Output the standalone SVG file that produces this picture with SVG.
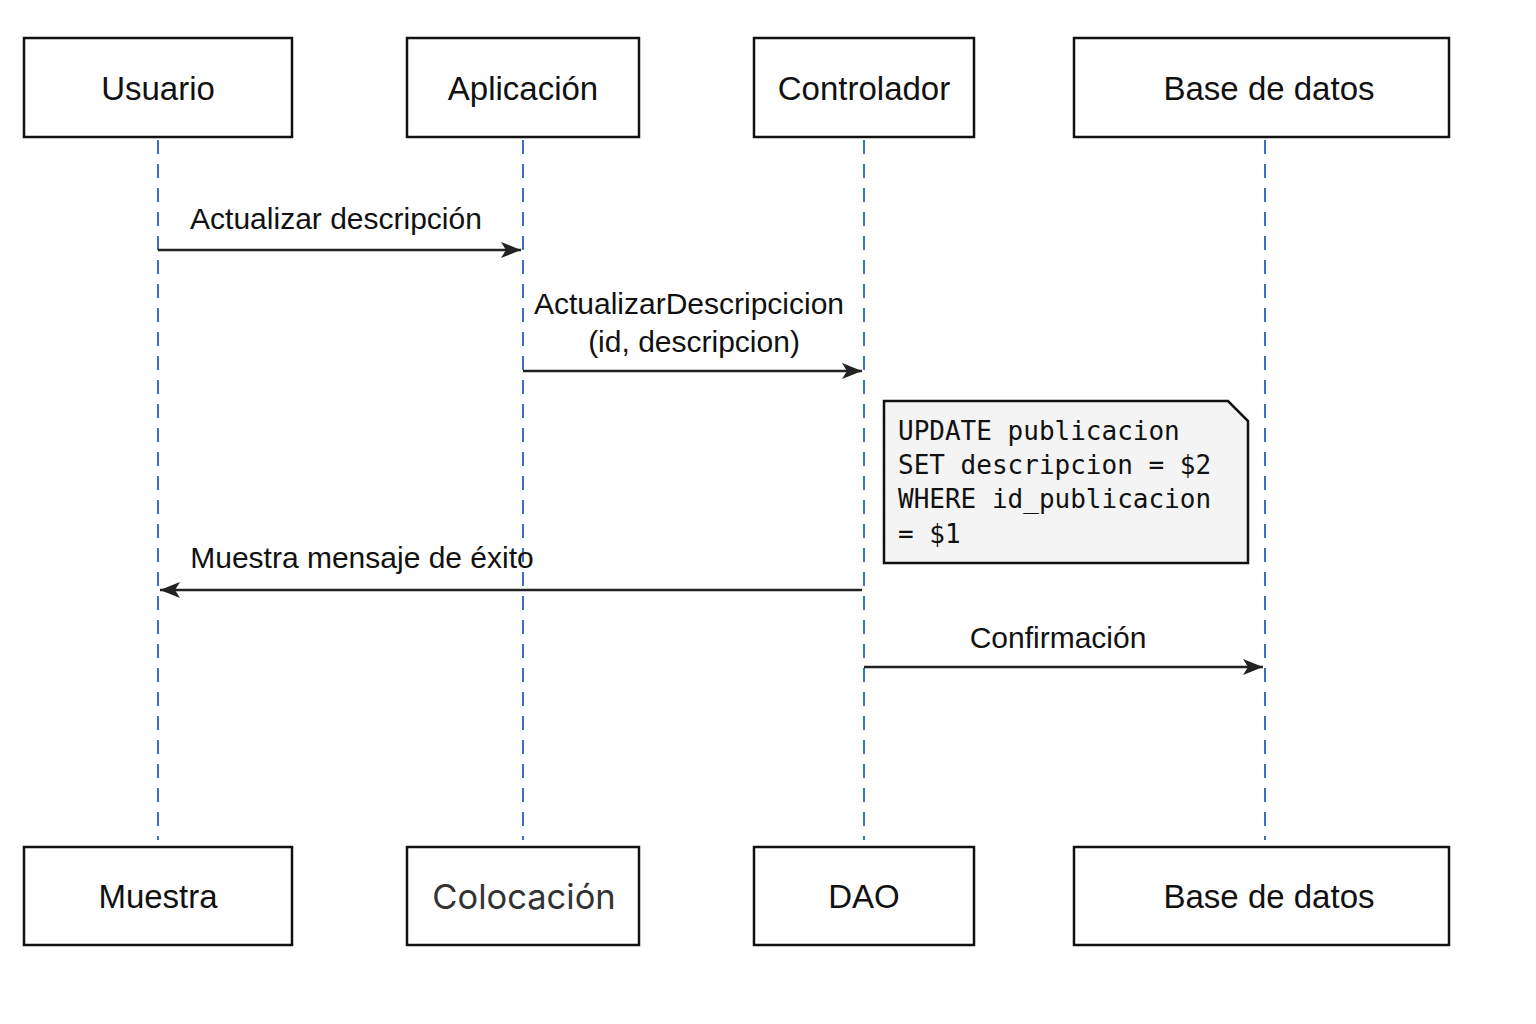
<svg xmlns="http://www.w3.org/2000/svg" width="1536" height="1024" viewBox="0 0 1536 1024">
<defs>
<style>
.box{fill:#fff;stroke:#111;stroke-width:2.5}
.lbl{font-family:"Liberation Sans",Arial,sans-serif;font-size:33px;fill:#111;text-anchor:middle;dominant-baseline:central}
.life{stroke:#3a6fc4;stroke-width:2;stroke-dasharray:14 10;fill:none}
.msg{stroke:#222;stroke-width:2.5;fill:none}
.mt{font-family:"Liberation Sans",Arial,sans-serif;font-size:30px;fill:#111;text-anchor:middle}
.code{font-family:"DejaVu Sans Mono",monospace;font-size:26px;fill:#111}
</style>
<marker id="ah" viewBox="0 0 20 16" refX="20" refY="8" markerWidth="20" markerHeight="16" markerUnits="userSpaceOnUse" orient="auto-start-reverse">
<path d="M0,0 L20,8 L0,16 L5,8 Z" fill="#222"/>
</marker>
</defs>
<rect width="1536" height="1024" fill="#fff"/>
<g id="lifelines">
<line class="life" x1="158" y1="140" x2="158" y2="840"/>
<line class="life" x1="523" y1="140" x2="523" y2="840"/>
<line class="life" x1="864" y1="140" x2="864" y2="840"/>
<line class="life" x1="1265" y1="140" x2="1265" y2="840"/>
</g>
<g id="usuario"><rect class="box" x="24" y="38" width="268" height="99"/><text class="lbl" x="158" y="88">Usuario</text></g>
<g id="aplicacion"><rect class="box" x="407" y="38" width="232" height="99"/><text class="lbl" x="523" y="88">Aplicación</text></g>
<g id="controlador"><rect class="box" x="754" y="38" width="220" height="99"/><text class="lbl" x="864" y="88">Controlador</text></g>
<g id="basedatos"><rect class="box" x="1074" y="38" width="375" height="99"/><text class="lbl" x="1269" y="88">Base de datos</text></g>
<g id="muestra"><rect class="box" x="24" y="847" width="268" height="98"/><text class="lbl" x="158" y="896">Muestra</text></g>
<g id="colocacion"><rect class="box" x="407" y="847" width="232" height="98"/><text class="lbl" x="524" y="896" style="font-family:Inter,'Liberation Sans',sans-serif;fill:#333;font-size:34.5px">Colocación</text></g>
<g id="dao"><rect class="box" x="754" y="847" width="220" height="98"/><text class="lbl" x="864" y="896">DAO</text></g>
<g id="basedatos2"><rect class="box" x="1074" y="847" width="375" height="98"/><text class="lbl" x="1269" y="896">Base de datos</text></g>
<g id="note">
<path d="M884,401 H1228 L1248,421 V563 H884 Z" fill="#f4f4f4" stroke="#111" stroke-width="2.5"/>
<text class="code" x="898" y="440">UPDATE publicacion</text>
<text class="code" x="898" y="474">SET descripcion = $2</text>
<text class="code" x="898" y="508">WHERE id_publicacion</text>
<text class="code" x="898" y="543">= $1</text>
</g>
<g id="connectors">
<line class="msg" x1="158" y1="250" x2="521" y2="250" marker-end="url(#ah)"/>
<text class="mt" x="336" y="229">Actualizar descripción</text>
<line class="msg" x1="523" y1="371" x2="862" y2="371" marker-end="url(#ah)"/>
<text class="mt" x="689" y="314">ActualizarDescripcicion</text>
<text class="mt" x="694" y="352">(id, descripcion)</text>
<line class="msg" x1="862" y1="590" x2="160" y2="590" marker-end="url(#ah)"/>
<text class="mt" x="362" y="568">Muestra mensaje de éxito</text>
<line class="msg" x1="864" y1="667" x2="1263" y2="667" marker-end="url(#ah)"/>
<text class="mt" x="1058" y="648">Confirmación</text>
</g>
</svg>
